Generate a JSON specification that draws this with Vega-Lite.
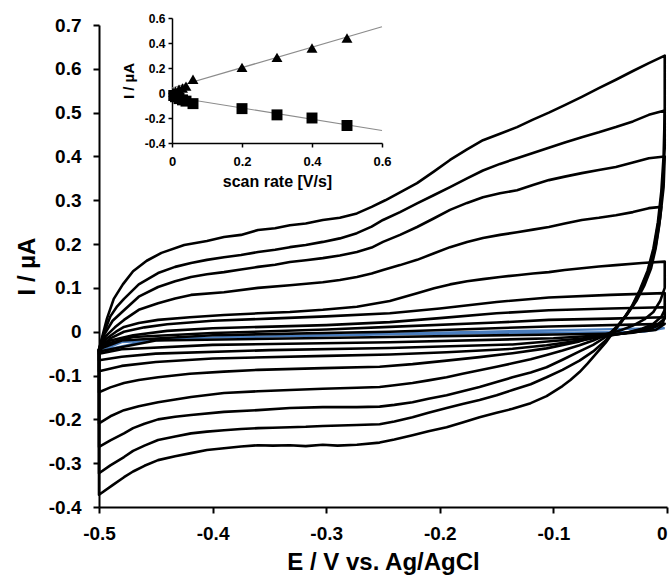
{
"$schema": "https://vega.github.io/schema/vega-lite/v6.json",
"width": 568, "height": 482,
"autosize": {"type": "none"},
"padding": {"left": 99, "top": 25, "right": 4, "bottom": 71},
"background": "white",
"config": {"view": {"stroke": null}, "font": "Liberation Sans",
 "axis": {"grid": false, "domainColor": "black", "tickColor": "black", "labelColor": "black", "titleColor": "black", "labelFontWeight": "bold", "titleFontWeight": "bold", "labelFont": "Liberation Sans", "titleFont": "Liberation Sans", "labelFlush": false, "labelOverlap": false}},
"datasets": {
"cvblue": [
{"seq":1,"E":-0.5,"I":-0.045},{"seq":2,"E":-0.48,"I":-0.024},{"seq":3,"E":-0.4,"I":-0.013},{"seq":4,"E":-0.244,"I":-0.004},{"seq":5,"E":-0.104,"I":0.003},{"seq":6,"E":-0.002,"I":0.008},{"seq":7,"E":-0.02,"I":0.0},{"seq":8,"E":-0.244,"I":-0.006},{"seq":9,"E":-0.45,"I":-0.016},{"seq":10,"E":-0.5,"I":-0.045}
],
"cv": [
{"loop":"L1","seq":1,"E":-0.5,"I":-0.04},{"loop":"L1","seq":2,"E":-0.497,"I":-0.01},{"loop":"L1","seq":3,"E":-0.493,"I":0.03},{"loop":"L1","seq":4,"E":-0.487,"I":0.075},{"loop":"L1","seq":5,"E":-0.479,"I":0.108},{"loop":"L1","seq":6,"E":-0.47,"I":0.138},{"loop":"L1","seq":7,"E":-0.458,"I":0.162},{"loop":"L1","seq":8,"E":-0.445,"I":0.18},{"loop":"L1","seq":9,"E":-0.425,"I":0.198},{"loop":"L1","seq":10,"E":-0.405,"I":0.207},{"loop":"L1","seq":11,"E":-0.39,"I":0.216},{"loop":"L1","seq":12,"E":-0.375,"I":0.221},{"loop":"L1","seq":13,"E":-0.36,"I":0.232},{"loop":"L1","seq":14,"E":-0.345,"I":0.236},{"loop":"L1","seq":15,"E":-0.332,"I":0.243},{"loop":"L1","seq":16,"E":-0.318,"I":0.247},{"loop":"L1","seq":17,"E":-0.303,"I":0.255},{"loop":"L1","seq":18,"E":-0.288,"I":0.26},{"loop":"L1","seq":19,"E":-0.273,"I":0.27},{"loop":"L1","seq":20,"E":-0.26,"I":0.285},{"loop":"L1","seq":21,"E":-0.248,"I":0.3},{"loop":"L1","seq":22,"E":-0.235,"I":0.318},{"loop":"L1","seq":23,"E":-0.22,"I":0.339},{"loop":"L1","seq":24,"E":-0.205,"I":0.366},{"loop":"L1","seq":25,"E":-0.191,"I":0.392},{"loop":"L1","seq":26,"E":-0.176,"I":0.416},{"loop":"L1","seq":27,"E":-0.162,"I":0.437},{"loop":"L1","seq":28,"E":-0.147,"I":0.452},{"loop":"L1","seq":29,"E":-0.132,"I":0.467},{"loop":"L1","seq":30,"E":-0.118,"I":0.484},{"loop":"L1","seq":31,"E":-0.104,"I":0.5},{"loop":"L1","seq":32,"E":-0.09,"I":0.517},{"loop":"L1","seq":33,"E":-0.075,"I":0.536},{"loop":"L1","seq":34,"E":-0.06,"I":0.556},{"loop":"L1","seq":35,"E":-0.045,"I":0.575},{"loop":"L1","seq":36,"E":-0.03,"I":0.595},{"loop":"L1","seq":37,"E":-0.016,"I":0.613},{"loop":"L1","seq":38,"E":-0.002,"I":0.63},{"loop":"L1","seq":39,"E":-0.002,"I":0.5},{"loop":"L1","seq":40,"E":-0.003,"I":0.4},{"loop":"L1","seq":41,"E":-0.005,"I":0.32},{"loop":"L1","seq":42,"E":-0.008,"I":0.25},{"loop":"L1","seq":43,"E":-0.012,"I":0.19},{"loop":"L1","seq":44,"E":-0.017,"I":0.14},{"loop":"L1","seq":45,"E":-0.024,"I":0.095},{"loop":"L1","seq":46,"E":-0.031,"I":0.058},{"loop":"L1","seq":47,"E":-0.039,"I":0.027},{"loop":"L1","seq":48,"E":-0.047,"I":0.0},{"loop":"L1","seq":49,"E":-0.054,"I":-0.025},{"loop":"L1","seq":50,"E":-0.062,"I":-0.049},{"loop":"L1","seq":51,"E":-0.07,"I":-0.073},{"loop":"L1","seq":52,"E":-0.077,"I":-0.092},{"loop":"L1","seq":53,"E":-0.085,"I":-0.11},{"loop":"L1","seq":54,"E":-0.092,"I":-0.124},{"loop":"L1","seq":55,"E":-0.106,"I":-0.147},{"loop":"L1","seq":56,"E":-0.12,"I":-0.163},{"loop":"L1","seq":57,"E":-0.136,"I":-0.176},{"loop":"L1","seq":58,"E":-0.15,"I":-0.185},{"loop":"L1","seq":59,"E":-0.165,"I":-0.195},{"loop":"L1","seq":60,"E":-0.18,"I":-0.207},{"loop":"L1","seq":61,"E":-0.194,"I":-0.218},{"loop":"L1","seq":62,"E":-0.21,"I":-0.227},{"loop":"L1","seq":63,"E":-0.224,"I":-0.236},{"loop":"L1","seq":64,"E":-0.24,"I":-0.246},{"loop":"L1","seq":65,"E":-0.253,"I":-0.253},{"loop":"L1","seq":66,"E":-0.273,"I":-0.258},{"loop":"L1","seq":67,"E":-0.29,"I":-0.26},{"loop":"L1","seq":68,"E":-0.303,"I":-0.258},{"loop":"L1","seq":69,"E":-0.318,"I":-0.261},{"loop":"L1","seq":70,"E":-0.332,"I":-0.259},{"loop":"L1","seq":71,"E":-0.347,"I":-0.26},{"loop":"L1","seq":72,"E":-0.36,"I":-0.259},{"loop":"L1","seq":73,"E":-0.375,"I":-0.262},{"loop":"L1","seq":74,"E":-0.39,"I":-0.266},{"loop":"L1","seq":75,"E":-0.405,"I":-0.27},{"loop":"L1","seq":76,"E":-0.419,"I":-0.277},{"loop":"L1","seq":77,"E":-0.433,"I":-0.284},{"loop":"L1","seq":78,"E":-0.448,"I":-0.293},{"loop":"L1","seq":79,"E":-0.46,"I":-0.306},{"loop":"L1","seq":80,"E":-0.47,"I":-0.319},{"loop":"L1","seq":81,"E":-0.478,"I":-0.332},{"loop":"L1","seq":82,"E":-0.488,"I":-0.35},{"loop":"L1","seq":83,"E":-0.5,"I":-0.372},{"loop":"L1","seq":84,"E":-0.5,"I":-0.04},
{"loop":"L2","seq":1,"E":-0.5,"I":-0.04},{"loop":"L2","seq":2,"E":-0.496,"I":-0.005},{"loop":"L2","seq":3,"E":-0.49,"I":0.035},{"loop":"L2","seq":4,"E":-0.484,"I":0.058},{"loop":"L2","seq":5,"E":-0.478,"I":0.075},{"loop":"L2","seq":6,"E":-0.465,"I":0.108},{"loop":"L2","seq":7,"E":-0.448,"I":0.134},{"loop":"L2","seq":8,"E":-0.433,"I":0.148},{"loop":"L2","seq":9,"E":-0.419,"I":0.157},{"loop":"L2","seq":10,"E":-0.405,"I":0.164},{"loop":"L2","seq":11,"E":-0.39,"I":0.17},{"loop":"L2","seq":12,"E":-0.375,"I":0.175},{"loop":"L2","seq":13,"E":-0.36,"I":0.182},{"loop":"L2","seq":14,"E":-0.345,"I":0.187},{"loop":"L2","seq":15,"E":-0.332,"I":0.193},{"loop":"L2","seq":16,"E":-0.318,"I":0.198},{"loop":"L2","seq":17,"E":-0.303,"I":0.205},{"loop":"L2","seq":18,"E":-0.288,"I":0.213},{"loop":"L2","seq":19,"E":-0.273,"I":0.225},{"loop":"L2","seq":20,"E":-0.26,"I":0.24},{"loop":"L2","seq":21,"E":-0.25,"I":0.255},{"loop":"L2","seq":22,"E":-0.235,"I":0.273},{"loop":"L2","seq":23,"E":-0.22,"I":0.293},{"loop":"L2","seq":24,"E":-0.205,"I":0.312},{"loop":"L2","seq":25,"E":-0.191,"I":0.33},{"loop":"L2","seq":26,"E":-0.176,"I":0.35},{"loop":"L2","seq":27,"E":-0.162,"I":0.368},{"loop":"L2","seq":28,"E":-0.147,"I":0.383},{"loop":"L2","seq":29,"E":-0.132,"I":0.396},{"loop":"L2","seq":30,"E":-0.118,"I":0.408},{"loop":"L2","seq":31,"E":-0.104,"I":0.42},{"loop":"L2","seq":32,"E":-0.09,"I":0.432},{"loop":"L2","seq":33,"E":-0.075,"I":0.444},{"loop":"L2","seq":34,"E":-0.06,"I":0.455},{"loop":"L2","seq":35,"E":-0.045,"I":0.467},{"loop":"L2","seq":36,"E":-0.03,"I":0.48},{"loop":"L2","seq":37,"E":-0.016,"I":0.495},{"loop":"L2","seq":38,"E":-0.002,"I":0.505},{"loop":"L2","seq":39,"E":-0.002,"I":0.42},{"loop":"L2","seq":40,"E":-0.004,"I":0.33},{"loop":"L2","seq":41,"E":-0.007,"I":0.26},{"loop":"L2","seq":42,"E":-0.011,"I":0.195},{"loop":"L2","seq":43,"E":-0.016,"I":0.142},{"loop":"L2","seq":44,"E":-0.023,"I":0.097},{"loop":"L2","seq":45,"E":-0.03,"I":0.06},{"loop":"L2","seq":46,"E":-0.038,"I":0.03},{"loop":"L2","seq":47,"E":-0.046,"I":0.004},{"loop":"L2","seq":48,"E":-0.054,"I":-0.02},{"loop":"L2","seq":49,"E":-0.065,"I":-0.045},{"loop":"L2","seq":50,"E":-0.077,"I":-0.066},{"loop":"L2","seq":51,"E":-0.092,"I":-0.087},{"loop":"L2","seq":52,"E":-0.106,"I":-0.104},{"loop":"L2","seq":53,"E":-0.12,"I":-0.12},{"loop":"L2","seq":54,"E":-0.136,"I":-0.133},{"loop":"L2","seq":55,"E":-0.15,"I":-0.145},{"loop":"L2","seq":56,"E":-0.165,"I":-0.156},{"loop":"L2","seq":57,"E":-0.18,"I":-0.165},{"loop":"L2","seq":58,"E":-0.194,"I":-0.174},{"loop":"L2","seq":59,"E":-0.21,"I":-0.185},{"loop":"L2","seq":60,"E":-0.224,"I":-0.195},{"loop":"L2","seq":61,"E":-0.24,"I":-0.205},{"loop":"L2","seq":62,"E":-0.253,"I":-0.211},{"loop":"L2","seq":63,"E":-0.273,"I":-0.213},{"loop":"L2","seq":64,"E":-0.288,"I":-0.214},{"loop":"L2","seq":65,"E":-0.303,"I":-0.215},{"loop":"L2","seq":66,"E":-0.318,"I":-0.217},{"loop":"L2","seq":67,"E":-0.332,"I":-0.218},{"loop":"L2","seq":68,"E":-0.347,"I":-0.219},{"loop":"L2","seq":69,"E":-0.36,"I":-0.22},{"loop":"L2","seq":70,"E":-0.375,"I":-0.222},{"loop":"L2","seq":71,"E":-0.39,"I":-0.225},{"loop":"L2","seq":72,"E":-0.405,"I":-0.228},{"loop":"L2","seq":73,"E":-0.419,"I":-0.232},{"loop":"L2","seq":74,"E":-0.433,"I":-0.239},{"loop":"L2","seq":75,"E":-0.448,"I":-0.247},{"loop":"L2","seq":76,"E":-0.46,"I":-0.26},{"loop":"L2","seq":77,"E":-0.47,"I":-0.272},{"loop":"L2","seq":78,"E":-0.478,"I":-0.286},{"loop":"L2","seq":79,"E":-0.49,"I":-0.305},{"loop":"L2","seq":80,"E":-0.5,"I":-0.323},{"loop":"L2","seq":81,"E":-0.5,"I":-0.04},
{"loop":"L3","seq":1,"E":-0.5,"I":-0.04},{"loop":"L3","seq":2,"E":-0.495,"I":-0.005},{"loop":"L3","seq":3,"E":-0.488,"I":0.025},{"loop":"L3","seq":4,"E":-0.478,"I":0.049},{"loop":"L3","seq":5,"E":-0.465,"I":0.08},{"loop":"L3","seq":6,"E":-0.448,"I":0.102},{"loop":"L3","seq":7,"E":-0.433,"I":0.115},{"loop":"L3","seq":8,"E":-0.419,"I":0.125},{"loop":"L3","seq":9,"E":-0.405,"I":0.131},{"loop":"L3","seq":10,"E":-0.39,"I":0.136},{"loop":"L3","seq":11,"E":-0.375,"I":0.142},{"loop":"L3","seq":12,"E":-0.36,"I":0.148},{"loop":"L3","seq":13,"E":-0.345,"I":0.153},{"loop":"L3","seq":14,"E":-0.332,"I":0.159},{"loop":"L3","seq":15,"E":-0.318,"I":0.163},{"loop":"L3","seq":16,"E":-0.303,"I":0.168},{"loop":"L3","seq":17,"E":-0.288,"I":0.174},{"loop":"L3","seq":18,"E":-0.273,"I":0.182},{"loop":"L3","seq":19,"E":-0.26,"I":0.192},{"loop":"L3","seq":20,"E":-0.25,"I":0.205},{"loop":"L3","seq":21,"E":-0.235,"I":0.221},{"loop":"L3","seq":22,"E":-0.22,"I":0.239},{"loop":"L3","seq":23,"E":-0.205,"I":0.259},{"loop":"L3","seq":24,"E":-0.191,"I":0.278},{"loop":"L3","seq":25,"E":-0.176,"I":0.294},{"loop":"L3","seq":26,"E":-0.162,"I":0.307},{"loop":"L3","seq":27,"E":-0.147,"I":0.316},{"loop":"L3","seq":28,"E":-0.132,"I":0.323},{"loop":"L3","seq":29,"E":-0.118,"I":0.335},{"loop":"L3","seq":30,"E":-0.104,"I":0.346},{"loop":"L3","seq":31,"E":-0.09,"I":0.354},{"loop":"L3","seq":32,"E":-0.075,"I":0.362},{"loop":"L3","seq":33,"E":-0.06,"I":0.369},{"loop":"L3","seq":34,"E":-0.045,"I":0.376},{"loop":"L3","seq":35,"E":-0.03,"I":0.386},{"loop":"L3","seq":36,"E":-0.016,"I":0.396},{"loop":"L3","seq":37,"E":-0.002,"I":0.4},{"loop":"L3","seq":38,"E":-0.003,"I":0.33},{"loop":"L3","seq":39,"E":-0.006,"I":0.26},{"loop":"L3","seq":40,"E":-0.01,"I":0.195},{"loop":"L3","seq":41,"E":-0.015,"I":0.145},{"loop":"L3","seq":42,"E":-0.022,"I":0.1},{"loop":"L3","seq":43,"E":-0.029,"I":0.065},{"loop":"L3","seq":44,"E":-0.037,"I":0.033},{"loop":"L3","seq":45,"E":-0.045,"I":0.008},{"loop":"L3","seq":46,"E":-0.054,"I":-0.012},{"loop":"L3","seq":47,"E":-0.065,"I":-0.03},{"loop":"L3","seq":48,"E":-0.077,"I":-0.045},{"loop":"L3","seq":49,"E":-0.092,"I":-0.064},{"loop":"L3","seq":50,"E":-0.106,"I":-0.081},{"loop":"L3","seq":51,"E":-0.12,"I":-0.093},{"loop":"L3","seq":52,"E":-0.136,"I":-0.104},{"loop":"L3","seq":53,"E":-0.15,"I":-0.115},{"loop":"L3","seq":54,"E":-0.165,"I":-0.126},{"loop":"L3","seq":55,"E":-0.18,"I":-0.136},{"loop":"L3","seq":56,"E":-0.194,"I":-0.145},{"loop":"L3","seq":57,"E":-0.21,"I":-0.153},{"loop":"L3","seq":58,"E":-0.224,"I":-0.161},{"loop":"L3","seq":59,"E":-0.24,"I":-0.167},{"loop":"L3","seq":60,"E":-0.253,"I":-0.171},{"loop":"L3","seq":61,"E":-0.273,"I":-0.172},{"loop":"L3","seq":62,"E":-0.303,"I":-0.172},{"loop":"L3","seq":63,"E":-0.332,"I":-0.174},{"loop":"L3","seq":64,"E":-0.36,"I":-0.179},{"loop":"L3","seq":65,"E":-0.39,"I":-0.183},{"loop":"L3","seq":66,"E":-0.419,"I":-0.19},{"loop":"L3","seq":67,"E":-0.433,"I":-0.194},{"loop":"L3","seq":68,"E":-0.448,"I":-0.2},{"loop":"L3","seq":69,"E":-0.46,"I":-0.21},{"loop":"L3","seq":70,"E":-0.47,"I":-0.22},{"loop":"L3","seq":71,"E":-0.478,"I":-0.232},{"loop":"L3","seq":72,"E":-0.49,"I":-0.248},{"loop":"L3","seq":73,"E":-0.5,"I":-0.263},{"loop":"L3","seq":74,"E":-0.5,"I":-0.04},
{"loop":"L4","seq":1,"E":-0.5,"I":-0.04},{"loop":"L4","seq":2,"E":-0.494,"I":-0.01},{"loop":"L4","seq":3,"E":-0.486,"I":0.01},{"loop":"L4","seq":4,"E":-0.478,"I":0.027},{"loop":"L4","seq":5,"E":-0.465,"I":0.05},{"loop":"L4","seq":6,"E":-0.448,"I":0.065},{"loop":"L4","seq":7,"E":-0.433,"I":0.076},{"loop":"L4","seq":8,"E":-0.419,"I":0.084},{"loop":"L4","seq":9,"E":-0.39,"I":0.09},{"loop":"L4","seq":10,"E":-0.36,"I":0.1},{"loop":"L4","seq":11,"E":-0.332,"I":0.106},{"loop":"L4","seq":12,"E":-0.303,"I":0.113},{"loop":"L4","seq":13,"E":-0.288,"I":0.118},{"loop":"L4","seq":14,"E":-0.273,"I":0.125},{"loop":"L4","seq":15,"E":-0.26,"I":0.133},{"loop":"L4","seq":16,"E":-0.25,"I":0.141},{"loop":"L4","seq":17,"E":-0.235,"I":0.152},{"loop":"L4","seq":18,"E":-0.22,"I":0.164},{"loop":"L4","seq":19,"E":-0.205,"I":0.179},{"loop":"L4","seq":20,"E":-0.191,"I":0.193},{"loop":"L4","seq":21,"E":-0.176,"I":0.205},{"loop":"L4","seq":22,"E":-0.162,"I":0.214},{"loop":"L4","seq":23,"E":-0.147,"I":0.221},{"loop":"L4","seq":24,"E":-0.132,"I":0.227},{"loop":"L4","seq":25,"E":-0.118,"I":0.233},{"loop":"L4","seq":26,"E":-0.104,"I":0.239},{"loop":"L4","seq":27,"E":-0.09,"I":0.247},{"loop":"L4","seq":28,"E":-0.075,"I":0.255},{"loop":"L4","seq":29,"E":-0.06,"I":0.26},{"loop":"L4","seq":30,"E":-0.045,"I":0.266},{"loop":"L4","seq":31,"E":-0.03,"I":0.273},{"loop":"L4","seq":32,"E":-0.016,"I":0.282},{"loop":"L4","seq":33,"E":-0.005,"I":0.285},{"loop":"L4","seq":34,"E":-0.007,"I":0.24},{"loop":"L4","seq":35,"E":-0.01,"I":0.19},{"loop":"L4","seq":36,"E":-0.014,"I":0.145},{"loop":"L4","seq":37,"E":-0.02,"I":0.105},{"loop":"L4","seq":38,"E":-0.027,"I":0.07},{"loop":"L4","seq":39,"E":-0.035,"I":0.04},{"loop":"L4","seq":40,"E":-0.043,"I":0.015},{"loop":"L4","seq":41,"E":-0.05,"I":-0.003},{"loop":"L4","seq":42,"E":-0.056,"I":-0.01},{"loop":"L4","seq":43,"E":-0.065,"I":-0.02},{"loop":"L4","seq":44,"E":-0.077,"I":-0.031},{"loop":"L4","seq":45,"E":-0.092,"I":-0.043},{"loop":"L4","seq":46,"E":-0.106,"I":-0.053},{"loop":"L4","seq":47,"E":-0.12,"I":-0.063},{"loop":"L4","seq":48,"E":-0.136,"I":-0.072},{"loop":"L4","seq":49,"E":-0.15,"I":-0.08},{"loop":"L4","seq":50,"E":-0.165,"I":-0.088},{"loop":"L4","seq":51,"E":-0.18,"I":-0.096},{"loop":"L4","seq":52,"E":-0.194,"I":-0.104},{"loop":"L4","seq":53,"E":-0.21,"I":-0.111},{"loop":"L4","seq":54,"E":-0.224,"I":-0.117},{"loop":"L4","seq":55,"E":-0.24,"I":-0.122},{"loop":"L4","seq":56,"E":-0.253,"I":-0.126},{"loop":"L4","seq":57,"E":-0.273,"I":-0.128},{"loop":"L4","seq":58,"E":-0.303,"I":-0.13},{"loop":"L4","seq":59,"E":-0.332,"I":-0.133},{"loop":"L4","seq":60,"E":-0.36,"I":-0.136},{"loop":"L4","seq":61,"E":-0.39,"I":-0.14},{"loop":"L4","seq":62,"E":-0.419,"I":-0.149},{"loop":"L4","seq":63,"E":-0.448,"I":-0.161},{"loop":"L4","seq":64,"E":-0.465,"I":-0.17},{"loop":"L4","seq":65,"E":-0.478,"I":-0.179},{"loop":"L4","seq":66,"E":-0.49,"I":-0.193},{"loop":"L4","seq":67,"E":-0.5,"I":-0.209},{"loop":"L4","seq":68,"E":-0.5,"I":-0.04},
{"loop":"L5","seq":1,"E":-0.5,"I":-0.04},{"loop":"L5","seq":2,"E":-0.493,"I":-0.015},{"loop":"L5","seq":3,"E":-0.485,"I":0.0},{"loop":"L5","seq":4,"E":-0.478,"I":0.011},{"loop":"L5","seq":5,"E":-0.465,"I":0.02},{"loop":"L5","seq":6,"E":-0.448,"I":0.027},{"loop":"L5","seq":7,"E":-0.42,"I":0.033},{"loop":"L5","seq":8,"E":-0.39,"I":0.038},{"loop":"L5","seq":9,"E":-0.36,"I":0.042},{"loop":"L5","seq":10,"E":-0.332,"I":0.045},{"loop":"L5","seq":11,"E":-0.303,"I":0.05},{"loop":"L5","seq":12,"E":-0.273,"I":0.057},{"loop":"L5","seq":13,"E":-0.244,"I":0.07},{"loop":"L5","seq":14,"E":-0.22,"I":0.088},{"loop":"L5","seq":15,"E":-0.205,"I":0.099},{"loop":"L5","seq":16,"E":-0.191,"I":0.108},{"loop":"L5","seq":17,"E":-0.176,"I":0.115},{"loop":"L5","seq":18,"E":-0.162,"I":0.12},{"loop":"L5","seq":19,"E":-0.147,"I":0.125},{"loop":"L5","seq":20,"E":-0.132,"I":0.129},{"loop":"L5","seq":21,"E":-0.118,"I":0.133},{"loop":"L5","seq":22,"E":-0.104,"I":0.136},{"loop":"L5","seq":23,"E":-0.09,"I":0.141},{"loop":"L5","seq":24,"E":-0.075,"I":0.145},{"loop":"L5","seq":25,"E":-0.06,"I":0.149},{"loop":"L5","seq":26,"E":-0.045,"I":0.152},{"loop":"L5","seq":27,"E":-0.022,"I":0.157},{"loop":"L5","seq":28,"E":-0.002,"I":0.16},{"loop":"L5","seq":29,"E":-0.002,"I":0.1},{"loop":"L5","seq":30,"E":-0.006,"I":0.07},{"loop":"L5","seq":31,"E":-0.012,"I":0.045},{"loop":"L5","seq":32,"E":-0.02,"I":0.028},{"loop":"L5","seq":33,"E":-0.03,"I":0.014},{"loop":"L5","seq":34,"E":-0.04,"I":0.004},{"loop":"L5","seq":35,"E":-0.048,"I":-0.002},{"loop":"L5","seq":36,"E":-0.056,"I":-0.007},{"loop":"L5","seq":37,"E":-0.077,"I":-0.022},{"loop":"L5","seq":38,"E":-0.106,"I":-0.038},{"loop":"L5","seq":39,"E":-0.136,"I":-0.049},{"loop":"L5","seq":40,"E":-0.165,"I":-0.058},{"loop":"L5","seq":41,"E":-0.194,"I":-0.066},{"loop":"L5","seq":42,"E":-0.224,"I":-0.074},{"loop":"L5","seq":43,"E":-0.253,"I":-0.08},{"loop":"L5","seq":44,"E":-0.303,"I":-0.083},{"loop":"L5","seq":45,"E":-0.36,"I":-0.087},{"loop":"L5","seq":46,"E":-0.39,"I":-0.091},{"loop":"L5","seq":47,"E":-0.42,"I":-0.096},{"loop":"L5","seq":48,"E":-0.448,"I":-0.104},{"loop":"L5","seq":49,"E":-0.465,"I":-0.11},{"loop":"L5","seq":50,"E":-0.478,"I":-0.117},{"loop":"L5","seq":51,"E":-0.49,"I":-0.127},{"loop":"L5","seq":52,"E":-0.5,"I":-0.138},{"loop":"L5","seq":53,"E":-0.5,"I":-0.04},
{"loop":"L6","seq":1,"E":-0.5,"I":-0.04},{"loop":"L6","seq":2,"E":-0.49,"I":-0.015},{"loop":"L6","seq":3,"E":-0.478,"I":0.0},{"loop":"L6","seq":4,"E":-0.46,"I":0.01},{"loop":"L6","seq":5,"E":-0.44,"I":0.017},{"loop":"L6","seq":6,"E":-0.4,"I":0.025},{"loop":"L6","seq":7,"E":-0.35,"I":0.03},{"loop":"L6","seq":8,"E":-0.3,"I":0.035},{"loop":"L6","seq":9,"E":-0.244,"I":0.042},{"loop":"L6","seq":10,"E":-0.2,"I":0.053},{"loop":"L6","seq":11,"E":-0.15,"I":0.068},{"loop":"L6","seq":12,"E":-0.104,"I":0.078},{"loop":"L6","seq":13,"E":-0.05,"I":0.084},{"loop":"L6","seq":14,"E":-0.002,"I":0.088},{"loop":"L6","seq":15,"E":-0.002,"I":0.05},{"loop":"L6","seq":16,"E":-0.005,"I":0.034},{"loop":"L6","seq":17,"E":-0.012,"I":0.018},{"loop":"L6","seq":18,"E":-0.022,"I":0.007},{"loop":"L6","seq":19,"E":-0.035,"I":-0.002},{"loop":"L6","seq":20,"E":-0.054,"I":-0.01},{"loop":"L6","seq":21,"E":-0.077,"I":-0.02},{"loop":"L6","seq":22,"E":-0.106,"I":-0.031},{"loop":"L6","seq":23,"E":-0.136,"I":-0.039},{"loop":"L6","seq":24,"E":-0.194,"I":-0.047},{"loop":"L6","seq":25,"E":-0.244,"I":-0.052},{"loop":"L6","seq":26,"E":-0.3,"I":-0.055},{"loop":"L6","seq":27,"E":-0.4,"I":-0.061},{"loop":"L6","seq":28,"E":-0.45,"I":-0.069},{"loop":"L6","seq":29,"E":-0.48,"I":-0.078},{"loop":"L6","seq":30,"E":-0.5,"I":-0.09},{"loop":"L6","seq":31,"E":-0.5,"I":-0.04},
{"loop":"L7","seq":1,"E":-0.5,"I":-0.04},{"loop":"L7","seq":2,"E":-0.49,"I":-0.02},{"loop":"L7","seq":3,"E":-0.47,"I":-0.008},{"loop":"L7","seq":4,"E":-0.44,"I":0.002},{"loop":"L7","seq":5,"E":-0.4,"I":0.008},{"loop":"L7","seq":6,"E":-0.3,"I":0.015},{"loop":"L7","seq":7,"E":-0.244,"I":0.022},{"loop":"L7","seq":8,"E":-0.2,"I":0.031},{"loop":"L7","seq":9,"E":-0.15,"I":0.042},{"loop":"L7","seq":10,"E":-0.104,"I":0.049},{"loop":"L7","seq":11,"E":-0.05,"I":0.053},{"loop":"L7","seq":12,"E":-0.002,"I":0.056},{"loop":"L7","seq":13,"E":-0.002,"I":0.03},{"loop":"L7","seq":14,"E":-0.008,"I":0.017},{"loop":"L7","seq":15,"E":-0.02,"I":0.006},{"loop":"L7","seq":16,"E":-0.035,"I":-0.002},{"loop":"L7","seq":17,"E":-0.05,"I":-0.008},{"loop":"L7","seq":18,"E":-0.077,"I":-0.016},{"loop":"L7","seq":19,"E":-0.136,"I":-0.029},{"loop":"L7","seq":20,"E":-0.244,"I":-0.037},{"loop":"L7","seq":21,"E":-0.35,"I":-0.042},{"loop":"L7","seq":22,"E":-0.45,"I":-0.05},{"loop":"L7","seq":23,"E":-0.48,"I":-0.057},{"loop":"L7","seq":24,"E":-0.5,"I":-0.065},{"loop":"L7","seq":25,"E":-0.5,"I":-0.04},
{"loop":"L8","seq":1,"E":-0.5,"I":-0.04},{"loop":"L8","seq":2,"E":-0.49,"I":-0.025},{"loop":"L8","seq":3,"E":-0.47,"I":-0.012},{"loop":"L8","seq":4,"E":-0.4,"I":-0.003},{"loop":"L8","seq":5,"E":-0.3,"I":0.005},{"loop":"L8","seq":6,"E":-0.244,"I":0.011},{"loop":"L8","seq":7,"E":-0.15,"I":0.021},{"loop":"L8","seq":8,"E":-0.104,"I":0.027},{"loop":"L8","seq":9,"E":-0.05,"I":0.03},{"loop":"L8","seq":10,"E":-0.002,"I":0.033},{"loop":"L8","seq":11,"E":-0.004,"I":0.018},{"loop":"L8","seq":12,"E":-0.015,"I":0.006},{"loop":"L8","seq":13,"E":-0.03,"I":-0.002},{"loop":"L8","seq":14,"E":-0.05,"I":-0.007},{"loop":"L8","seq":15,"E":-0.1,"I":-0.015},{"loop":"L8","seq":16,"E":-0.244,"I":-0.024},{"loop":"L8","seq":17,"E":-0.4,"I":-0.03},{"loop":"L8","seq":18,"E":-0.48,"I":-0.04},{"loop":"L8","seq":19,"E":-0.5,"I":-0.05},{"loop":"L8","seq":20,"E":-0.5,"I":-0.04},
{"loop":"L9","seq":1,"E":-0.5,"I":-0.04},{"loop":"L9","seq":2,"E":-0.48,"I":-0.02},{"loop":"L9","seq":3,"E":-0.4,"I":-0.008},{"loop":"L9","seq":4,"E":-0.244,"I":0.0},{"loop":"L9","seq":5,"E":-0.104,"I":0.012},{"loop":"L9","seq":6,"E":-0.002,"I":0.018},{"loop":"L9","seq":7,"E":-0.01,"I":0.004},{"loop":"L9","seq":8,"E":-0.04,"I":-0.004},{"loop":"L9","seq":9,"E":-0.244,"I":-0.012},{"loop":"L9","seq":10,"E":-0.45,"I":-0.02},{"loop":"L9","seq":11,"E":-0.5,"I":-0.045},{"loop":"L9","seq":12,"E":-0.5,"I":-0.04}
],
"fit": [
{"series":"anodic","rate":0,"Ip":0.04},{"series":"anodic","rate":0.6,"Ip":0.53},
{"series":"cathodic","rate":0,"Ip":-0.03},{"series":"cathodic","rate":0.6,"Ip":-0.3}
],
"peaks": [
{"series":"anodic","rate":0.005,"Ip":0.005},{"series":"anodic","rate":0.01,"Ip":0.015},{"series":"anodic","rate":0.02,"Ip":0.03},{"series":"anodic","rate":0.03,"Ip":0.04},{"series":"anodic","rate":0.04,"Ip":0.055},{"series":"anodic","rate":0.06,"Ip":0.11},{"series":"anodic","rate":0.2,"Ip":0.205},{"series":"anodic","rate":0.3,"Ip":0.285},{"series":"anodic","rate":0.4,"Ip":0.36},{"series":"anodic","rate":0.5,"Ip":0.44},
{"series":"cathodic","rate":0.005,"Ip":-0.02},{"series":"cathodic","rate":0.01,"Ip":-0.03},{"series":"cathodic","rate":0.02,"Ip":-0.045},{"series":"cathodic","rate":0.03,"Ip":-0.055},{"series":"cathodic","rate":0.04,"Ip":-0.065},{"series":"cathodic","rate":0.06,"Ip":-0.085},{"series":"cathodic","rate":0.2,"Ip":-0.125},{"series":"cathodic","rate":0.3,"Ip":-0.175},{"series":"cathodic","rate":0.4,"Ip":-0.2},{"series":"cathodic","rate":0.5,"Ip":-0.26}
]
},
"layer": [
{"layer": [
 {"data": {"name": "cvblue"}, "mark": {"type": "line", "strokeWidth": 2.2, "color": "#4a7dbd"},
  "encoding": {
   "x": {"field": "E", "type": "quantitative", "scale": {"domain": [-0.5, 0], "nice": false, "zero": false},
     "axis": {"values": [-0.5, -0.4, -0.3, -0.2, -0.1, 0], "format": "~g", "labelExpr": "replace(datum.label, '\u2212', '-')", "title": "E / V vs. Ag/AgCl", "labelFontSize": 19, "titleFontSize": 24, "domainWidth": 2, "tickWidth": 2, "tickSize": 6, "labelPadding": 11, "titlePadding": 7,
       "labelAlign": {"condition": {"test": "datum.value == 0", "value": "right"}, "value": "center"}}},
   "y": {"field": "I", "type": "quantitative", "scale": {"domain": [-0.4, 0.7], "nice": false, "zero": false},
     "axis": {"values": [-0.4, -0.3, -0.2, -0.1, 0, 0.1, 0.2, 0.3, 0.4, 0.5, 0.6, 0.7], "format": "~g", "labelExpr": "replace(datum.label, '\u2212', '-')", "title": "I / µA", "labelFontSize": 19, "titleFontSize": 24, "domainWidth": 2, "tickWidth": 2, "tickSize": 6, "labelPadding": 12, "titlePadding": 9}},
   "order": {"field": "seq", "type": "quantitative"}
  }},
 {"data": {"name": "cv"}, "mark": {"type": "line", "strokeWidth": 2.6, "color": "black", "strokeJoin": "round"},
  "encoding": {
   "x": {"field": "E", "type": "quantitative"},
   "y": {"field": "I", "type": "quantitative"},
   "detail": {"field": "loop", "type": "nominal"},
   "order": {"field": "seq", "type": "quantitative"}
  }}
]},
{"layer": [
 {"data": {"name": "fit"}, "mark": {"type": "line", "strokeWidth": 1.2, "color": "#8c8c8c"},
  "encoding": {
   "x": {"field": "rate", "type": "quantitative", "scale": {"domain": [0, 0.6], "range": [73, 283], "nice": false, "zero": false},
     "axis": {"orient": "bottom", "offset": -364, "values": [0, 0.2, 0.4, 0.6], "format": "~g", "title": "scan rate [V/s]", "labelFontSize": 13, "titleFontSize": 16, "domainWidth": 1.5, "tickWidth": 1.5, "tickSize": 4, "labelPadding": 8, "titlePadding": 5}},
   "y": {"field": "Ip", "type": "quantitative", "scale": {"domain": [-0.4, 0.6], "range": [118, -7], "nice": false, "zero": false},
     "axis": {"orient": "left", "offset": -73, "values": [-0.4, -0.2, 0, 0.2, 0.4, 0.6], "format": "~g", "labelExpr": "replace(datum.label, '\u2212', '-')", "title": "I / µA", "labelFontSize": 12, "titleFontSize": 15, "domainWidth": 1.5, "tickWidth": 1.5, "tickSize": 4, "labelPadding": 3, "titlePadding": 8}},
   "detail": {"field": "series", "type": "nominal"}
  }},
 {"data": {"name": "peaks"}, "mark": {"type": "point", "filled": true, "size": 120, "color": "black", "opacity": 1},
  "encoding": {
   "x": {"field": "rate", "type": "quantitative"},
   "y": {"field": "Ip", "type": "quantitative"},
   "shape": {"field": "series", "type": "nominal", "scale": {"domain": ["anodic", "cathodic"], "range": ["triangle-up", "square"]}, "legend": null}
  }}
]}
],
"resolve": {"scale": {"x": "independent", "y": "independent"}, "axis": {"x": "independent", "y": "independent"}}
}
